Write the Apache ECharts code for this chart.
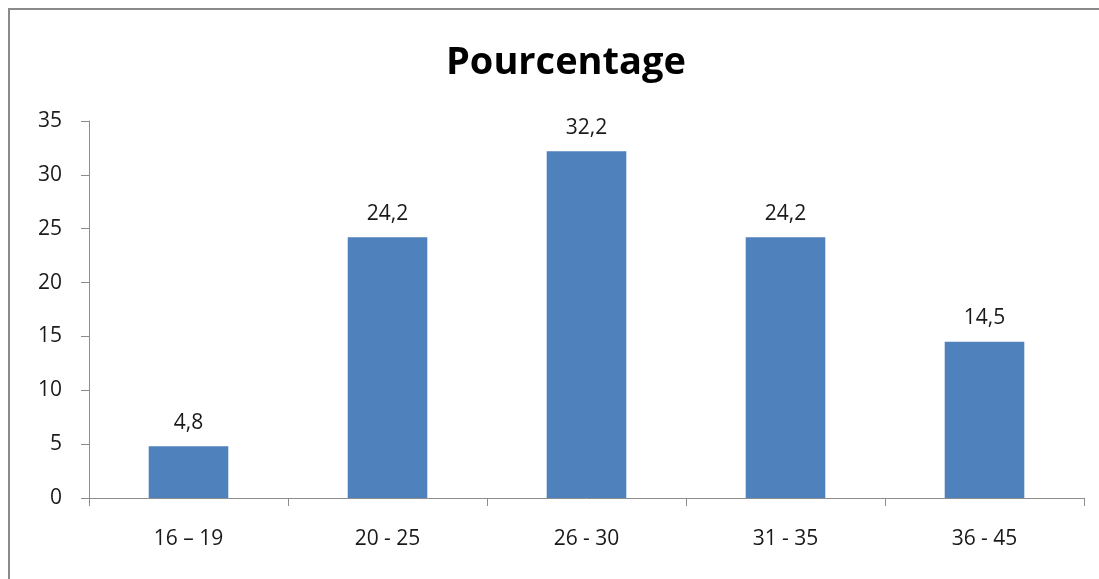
<!DOCTYPE html>
<html>
<head>
<meta charset="utf-8">
<script src="https://cdn.jsdelivr.net/npm/echarts@6/dist/echarts.min.js"></script>
<style>
  html, body { margin: 0; padding: 0; background: #fff; }
  #frame {
    position: absolute; left: 8px; top: 8px; width: 1091px; height: 571px;
    border-top: 2px solid #8a8a8a; border-left: 2px solid #8a8a8a;
    box-sizing: border-box;
  }
  #chart { position: absolute; left: 0; top: 0; width: 1099px; height: 579px; }
</style>
</head>
<body>
<div id="frame"></div>
<div id="chart"></div>
<script>
// tranches d'age et pourcentages
const categories = ['16 – 19', '20 - 25', '26 - 30', '31 - 35', '36 - 45']
const values = [4.8, 24.2, 32.2, 24.2, 14.5]
const yTicks = { min: 0, max: 35, interval: 5 }

const chart = echarts.init(document.getElementById('chart'))
const font = 'Open Sans'

chart.setOption({
  animation: false,
  title: {
    text: 'Pourcentage',
    left: 441,
    top: 39,
    textStyle: { fontFamily: font, fontSize: 38, fontWeight: 'bold', color: '#000' }
  },
  grid: { left: 89, right: 15, top: 121, bottom: 81 },
  xAxis: {
    type: 'category',
    data: categories,
    axisLine: { lineStyle: { color: '#8c8c8c', width: 1 } },
    axisTick: { show: true, length: 8, lineStyle: { color: '#8c8c8c' } },
    axisLabel: { margin: 31, fontFamily: font, fontSize: 21, color: '#1a1a1a' }
  },
  yAxis: {
    type: 'value',
    min: yTicks.min,
    max: yTicks.max,
    interval: yTicks.interval,
    splitLine: { show: false },
    axisLine: { show: true, lineStyle: { color: '#8c8c8c', width: 1 } },
    axisTick: { show: true, length: 8, lineStyle: { color: '#8c8c8c' } },
    axisLabel: { margin: 27, fontFamily: font, fontSize: 21, color: '#1a1a1a' }
  },
  series: [{
    type: 'bar',
    data: values,
    barWidth: '40%',
    itemStyle: { color: '#4f81bd' },
    label: {
      show: true,
      position: 'top',
      distance: 13,
      fontFamily: font,
      fontSize: 21,
      color: '#1a1a1a',
      formatter: p => String(p.value).replace('.', ',')
    }
  }]
})
</script>
</body>
</html>
